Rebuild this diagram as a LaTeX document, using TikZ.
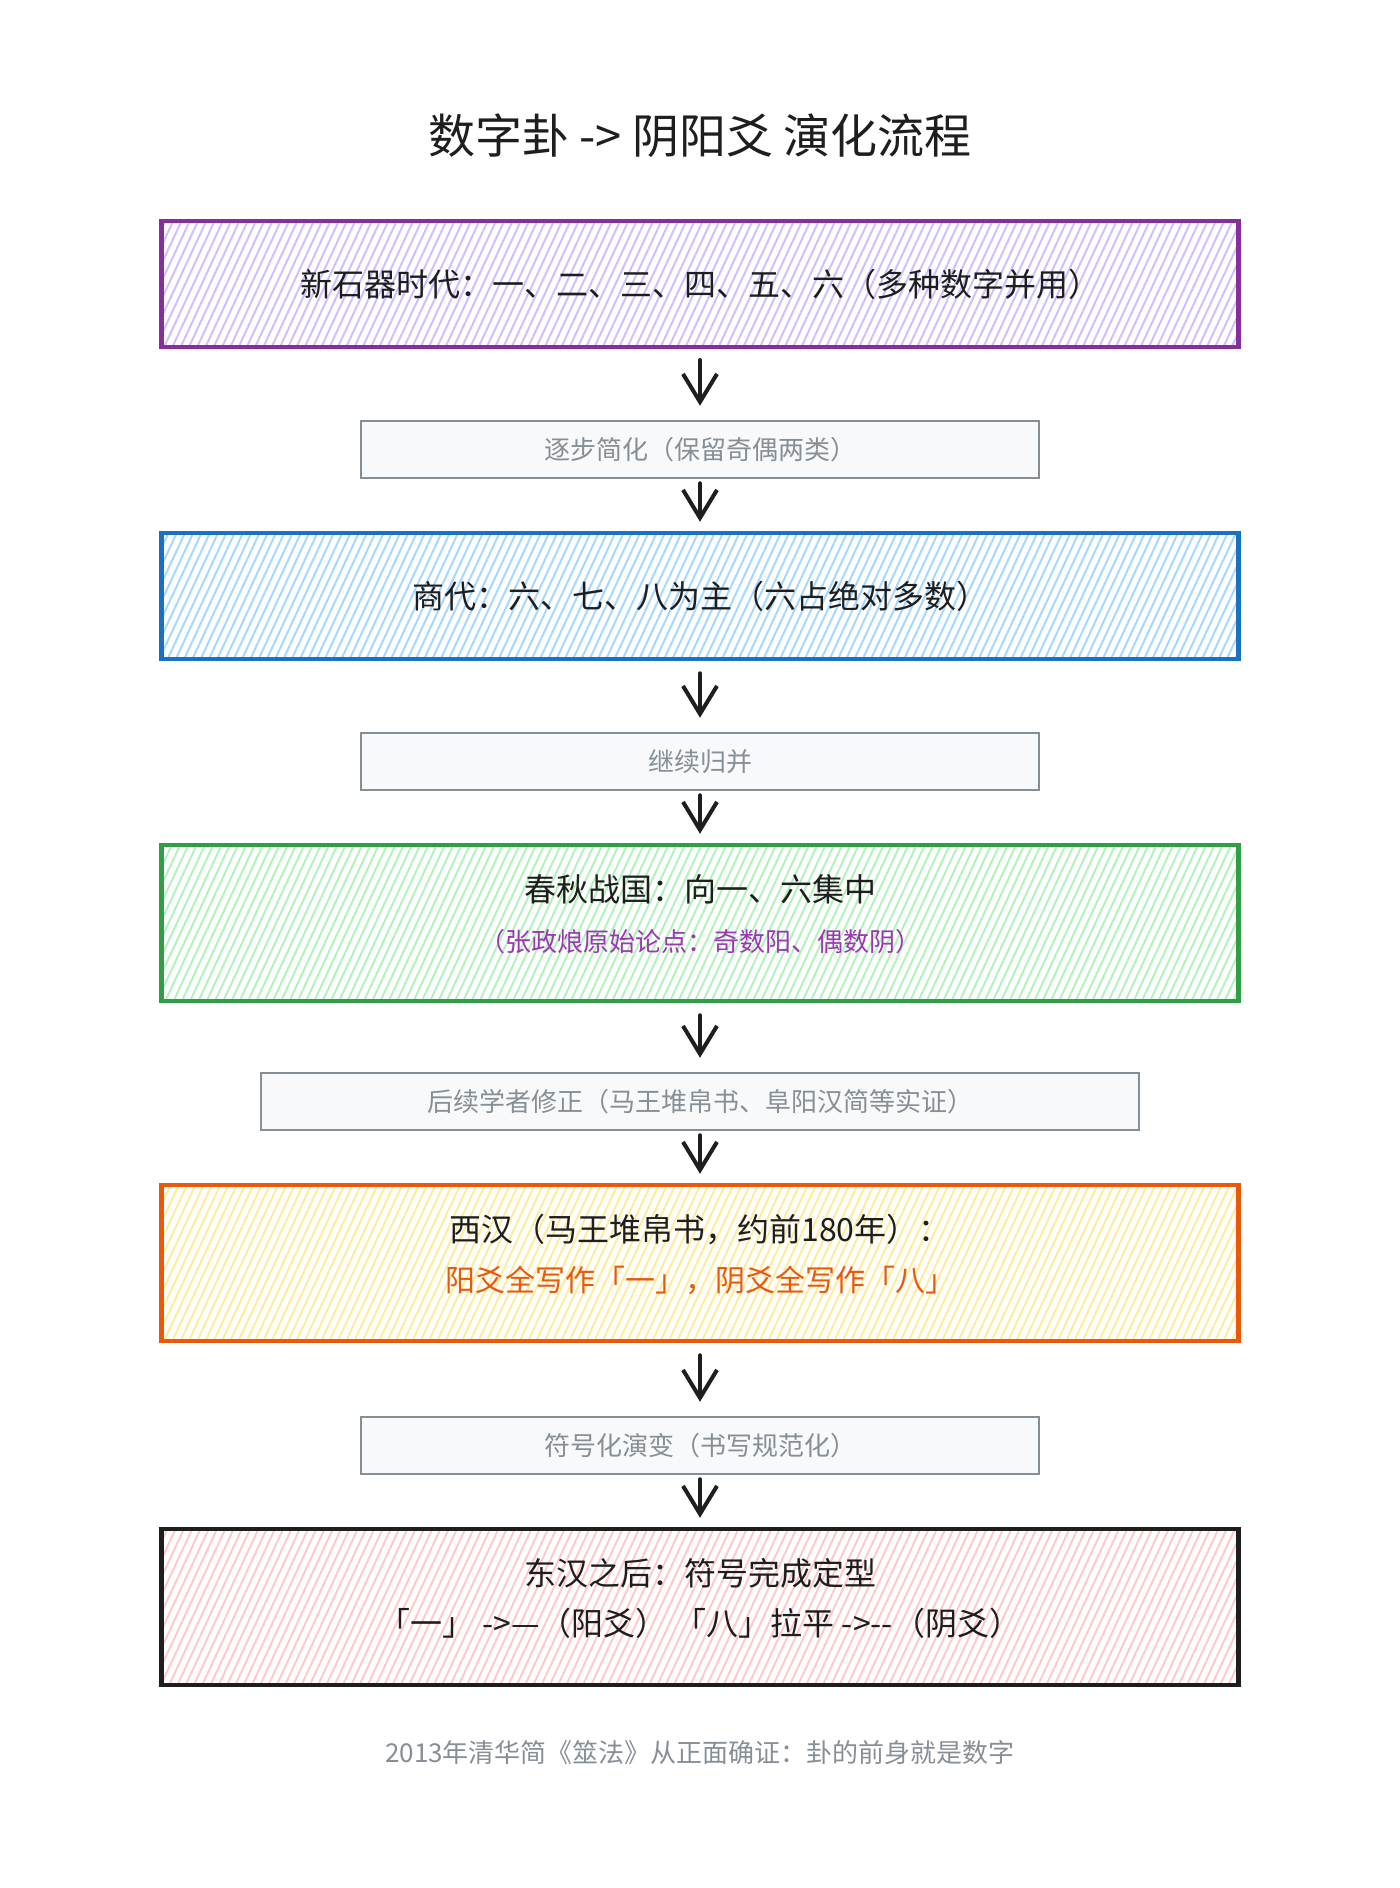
\documentclass[tikz,border=0pt]{standalone}
\usepackage{fontspec}
\setmainfont{Noto Sans CJK SC}
\usetikzlibrary{arrows.meta,patterns.meta}

\definecolor{ink}{HTML}{1E1E1E}
\definecolor{noteline}{HTML}{868E96}
\definecolor{notefill}{HTML}{F8F9FA}
\definecolor{purpleline}{HTML}{862E9C}
\definecolor{purplefill}{HTML}{D0BFFF}
\definecolor{blueline}{HTML}{1971C2}
\definecolor{bluefill}{HTML}{A5D8FF}
\definecolor{greenline}{HTML}{2F9E44}
\definecolor{greenfill}{HTML}{B2F2BB}
\definecolor{orangeline}{HTML}{E8590C}
\definecolor{yellowfill}{HTML}{FFEC99}
\definecolor{redfill}{HTML}{FFC9C9}
\definecolor{zhangtext}{HTML}{9C36B5}

\tikzset{
  stage/.style={draw, line width=4.5pt, minimum width=1077pt, minimum height=126pt,
    align=center, text=ink, font=\fontsize{32}{50}\selectfont},
  tall/.style={minimum height=156pt, text depth=20pt},
  hatch/.style={pattern={Lines[angle=65,distance=7.5pt,line width=2pt]}, pattern color=#1},
  note/.style={draw=noteline, fill=notefill, line width=2.5pt, minimum width=678pt,
    minimum height=57pt, text=noteline, font=\fontsize{26}{30}\selectfont},
  flow/.style={draw=ink, line width=4pt, line cap=round,
    -{Straight Barb[length=28pt,width=34pt]}, shorten <=12pt, shorten >=14pt},
}

\begin{document}
\begin{tikzpicture}[x=1pt, y=-1pt]
  \useasboundingbox (0,0) rectangle (1400,1888);
  % Title
  \node[text=ink, font=\fontsize{47}{52}\selectfont] (title) at (700,136) {数字卦 -> 阴阳爻 演化流程};
  % Neolithic
  \node[stage, draw=purpleline, hatch=purplefill] (neo) at (700,284)
    {新石器时代：一、二、三、四、五、六（多种数字并用）};
  \node[note] (simplify) at (700,449.5) {逐步简化（保留奇偶两类）};
  % Shang
  \node[stage, draw=blueline, hatch=bluefill] (shang) at (700,596)
    {商代：六、七、八为主（六占绝对多数）};
  \node[note] (merge) at (700,761.5) {继续归并};
  % Spring and Autumn, Warring States
  \node[stage, tall, draw=greenline, hatch=greenfill] (chunqiu) at (700,923)
    {春秋战国：向一、六集中\\
     \textcolor{zhangtext}{\fontsize{26}{50}\selectfont（张政烺原始论点：奇数阳、偶数阴）}};
  \node[note, minimum width=878pt] (revise) at (700,1101.5)
    {后续学者修正（马王堆帛书、阜阳汉简等实证）};
  % Western Han
  \node[stage, tall, draw=orangeline, hatch=yellowfill] (xihan) at (700,1263)
    {西汉（马王堆帛书，约前180年）：\\
     \textcolor{orangeline}{\fontsize{30}{50}\selectfont 阳爻全写作「一」，阴爻全写作「八」}};
  \node[note] (symbol) at (700,1445.5) {符号化演变（书写规范化）};
  % Eastern Han
  \node[stage, tall, draw=ink, hatch=redfill] (donghan) at (700,1607)
    {东汉之后：符号完成定型\\
     「一」 ->—（阳爻） 「八」拉平 ->-{}-（阴爻）};
  % Footnote
  \node[text=noteline, font=\fontsize{26}{30}\selectfont] (qinghua) at (700,1753)
    {2013年清华简《筮法》从正面确证：卦的前身就是数字};
  % Arrows
  \draw[flow] (neo) -- (simplify);
  \draw[flow, shorten <=4pt, shorten >=9pt] (simplify) -- (shang);
  \draw[flow] (shang) -- (merge);
  \draw[flow, shorten <=4pt, shorten >=9pt] (merge) -- (chunqiu);
  \draw[flow] (chunqiu) -- (revise);
  \draw[flow, shorten <=4pt, shorten >=9pt] (revise) -- (xihan);
  \draw[flow] (xihan) -- (symbol);
  \draw[flow, shorten <=4pt, shorten >=9pt] (symbol) -- (donghan);
\end{tikzpicture}
\end{document}
